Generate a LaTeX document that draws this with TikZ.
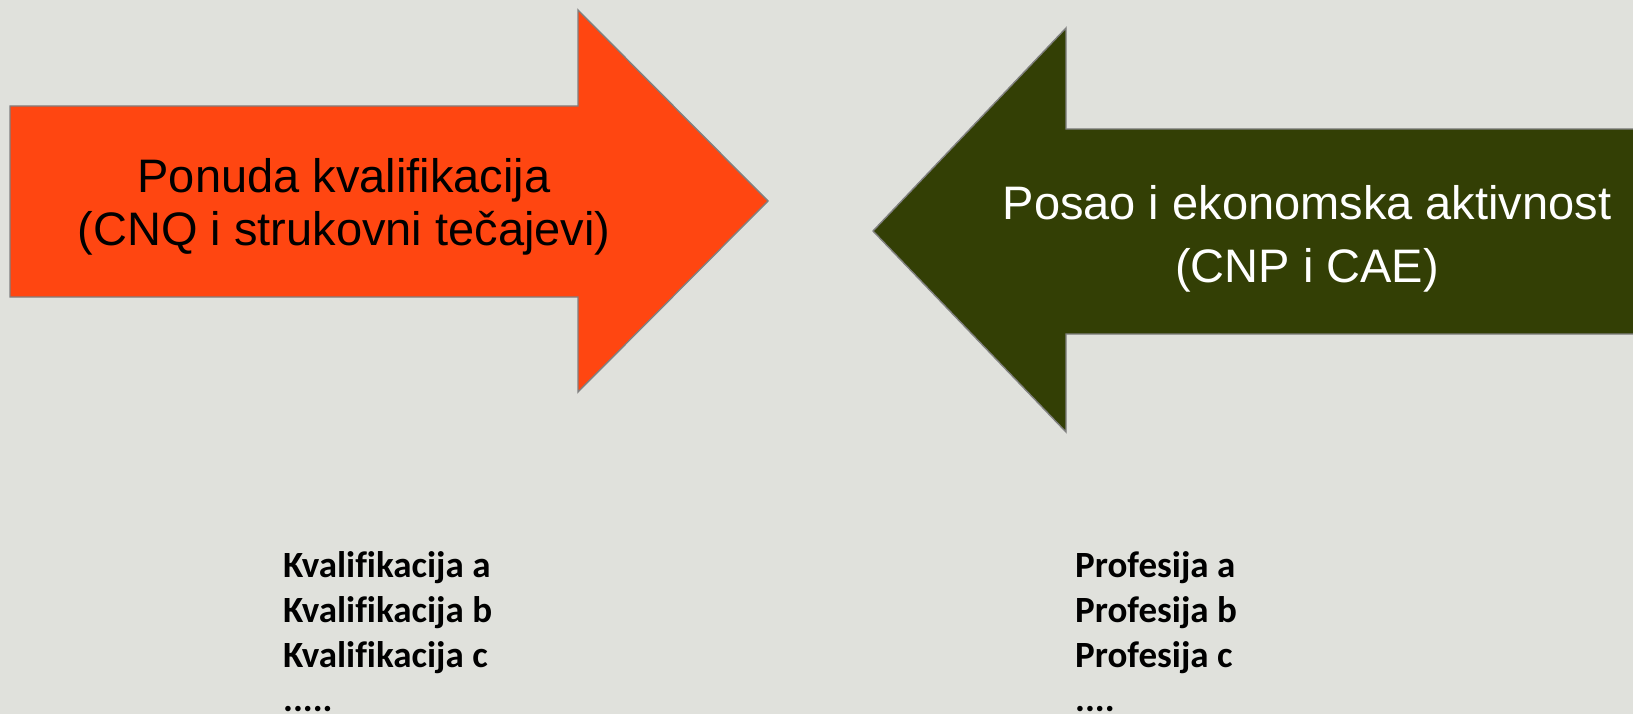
\documentclass[tikz,border=0pt]{standalone}
\usepackage{fontspec}
\newfontfamily\arialf{Liberation Sans}
\newfontfamily\calibrif[Ligatures=CommonOff]{Carlito}
\definecolor{bgc}{HTML}{E0E1DC}
\definecolor{orangec}{HTML}{FF4611}
\definecolor{olivec}{HTML}{333F05}
\definecolor{edgec}{HTML}{808080}
\begin{document}
\begin{tikzpicture}[x=1pt,y=-1pt,
  arrowshape/.style={draw=edgec,line width=1.4pt,line join=miter},
  bigtext/.style={font=\arialf\fontsize{47}{56}\selectfont,inner sep=0pt,anchor=base},
  listtext/.style={font=\calibrif\bfseries\fontsize{37}{44}\selectfont,inner sep=0pt,anchor=base west}]
\fill[bgc] (0,0) rectangle (1633,714);
\useasboundingbox (0,0) rectangle (1633,714);
% left arrow
\draw[arrowshape,fill=orangec] (10,106) -- (578,106) -- (578,10) -- (768,201) -- (578,392) -- (578,297) -- (10,297) -- cycle;
% right arrow
\draw[arrowshape,fill=olivec] (1645,129) -- (1066,129) -- (1066,28) -- (873,231) -- (1066,432) -- (1066,334) -- (1645,334);
\node[bigtext] (l1) at (344,193) {Ponuda kvalifikacija};
\node[bigtext] (l2) at (344,246) {(CNQ i strukovni tečajevi)};
\node[bigtext,text=white] (r1) at (1307,220) {Posao i ekonomska aktivnost};
\node[bigtext,text=white] (r2) at (1307,282) {(CNP i CAE)};
\node[listtext] (ka) at (283,577) {Kvalifikacija a};
\node[listtext] (kb) at (283,622) {Kvalifikacija b};
\node[listtext] (kc) at (283,667) {Kvalifikacija c};
\node[listtext] (kd) at (283,711) {.....};
\node[listtext] (pa) at (1075,577) {Profesija a};
\node[listtext] (pb) at (1075,622) {Profesija b};
\node[listtext] (pc) at (1075,667) {Profesija c};
\node[listtext] (pd) at (1075,711) {....};
\end{tikzpicture}
\end{document}
